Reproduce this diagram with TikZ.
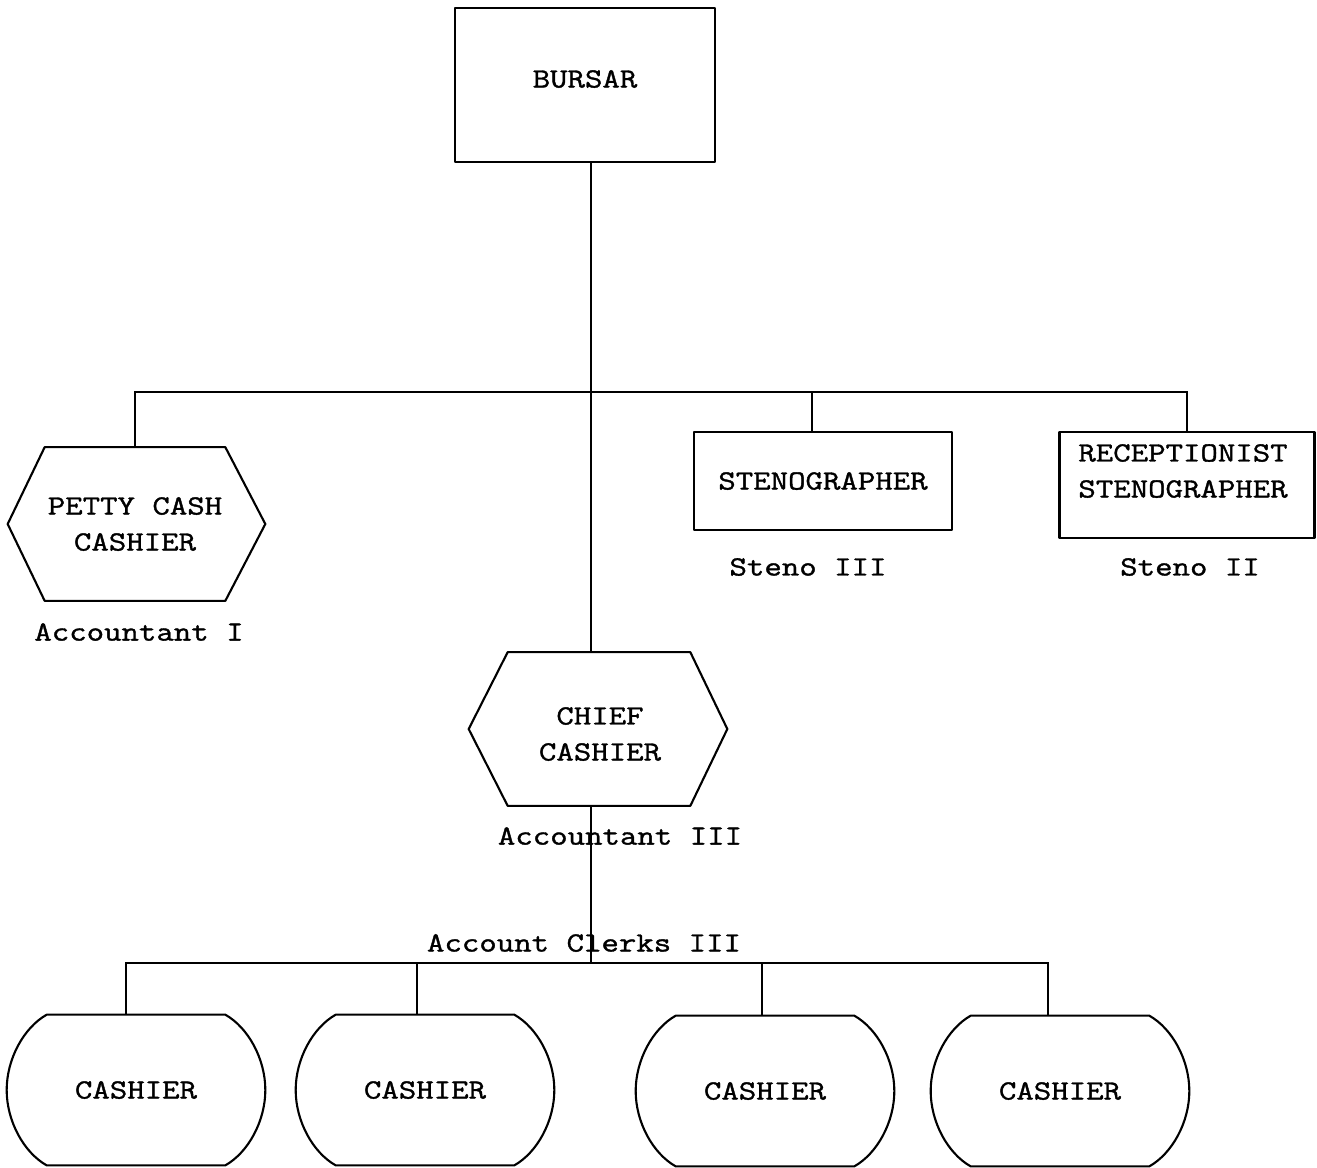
\documentclass[tikz,border=0pt]{standalone}
\usepackage{fontspec}
\newfontfamily\tw[FakeStretch=1.22,FakeBold=1.3]{Latin Modern Mono}
\newcommand\hexoutline[3]{%
  \draw[shapeline] (#1.north west) -- (#1.north east) -- ([xshift=#3]#1.east)
    -- (#1.south east) -- (#1.south west) -- ([xshift=-#2]#1.west) -- cycle;}
\newcommand\barreloutline[1]{%
  \draw[shapeline] ([xshift=0.8cm]#1.north west) -- ([xshift=-0.8cm]#1.north east)
    .. controls ([xshift=-0.34cm,yshift=-0.26cm]#1.north east) and ([yshift=0.62cm]#1.east) .. (#1.east)
    .. controls ([yshift=-0.62cm]#1.east) and ([xshift=-0.34cm,yshift=0.26cm]#1.south east) .. ([xshift=-0.8cm]#1.south east)
    -- ([xshift=0.8cm]#1.south west)
    .. controls ([xshift=0.34cm,yshift=0.26cm]#1.south west) and ([yshift=-0.62cm]#1.west) .. (#1.west)
    .. controls ([yshift=0.62cm]#1.west) and ([xshift=0.34cm,yshift=-0.26cm]#1.north west) .. cycle;}
\begin{document}
\begin{tikzpicture}[x=0.02cm,y=-0.02cm,
  txt/.style={font=\tw\fontsize{15.8}{20.5}\selectfont, align=center, inner sep=0pt},
  shapeline/.style={line width=1.2pt, line join=round},
  conn/.style={line width=0.9pt},
  boxnode/.style={txt, draw, shapeline, rectangle},
  hexnode/.style={txt, rectangle, minimum width=3.6cm, minimum height=3.06cm},
  barrel/.style={txt, rectangle, minimum width=5.16cm, minimum height=3.0cm}]
\useasboundingbox (0,0) rectangle (1317,1167);

% nodes
\node[boxnode, minimum width=5.2cm, minimum height=3.08cm] (bursar) at (585,85) {};
\node[txt] (bursarText) at (585,79) {BURSAR};
\node[hexnode] (petty) at (135,524) {PETTY CASH\\CASHIER};
\hexoutline{petty}{0.74cm}{0.8cm}
\node[boxnode, minimum width=5.16cm, minimum height=1.96cm] (steno) at (823,481) {STENOGRAPHER};
\node[boxnode, minimum width=5.1cm, minimum height=2.12cm] (recep) at (1187,485) {};
\node[txt] (recepText) at (1183,471) {RECEPTIONIST\\STENOGRAPHER};
\node[hexnode, minimum width=3.64cm] (chief) at (599,729) {};
\node[txt] (chiefText) at (600,734) {CHIEF\\CASHIER};
\hexoutline{chief}{0.78cm}{0.74cm}

\node[barrel] (c1) at (136,1090) {CASHIER};
\node[barrel] (c2) at (425,1090) {CASHIER};
\node[barrel] (c3) at (765,1091) {CASHIER};
\node[barrel] (c4) at (1060,1091) {CASHIER};
\barreloutline{c1}
\barreloutline{c2}
\barreloutline{c3}
\barreloutline{c4}

% labels
\node[txt] (accI) at (139,632) {Accountant I};
\node[txt] (st3) at (808,567) {Steno III};
\node[txt] (st2) at (1190,567) {Steno II};
\node[txt] (acc3) at (620,836) {Accountant III};
\node[txt] (clerks) at (584,943) {Account Clerks III};

% connectors
\coordinate (bus) at (591,392);
\coordinate (bus2) at (591,963);
\draw[conn] (bursar.south -| bus) -- (chief.north -| bus);
\draw[conn] (petty.north) -- (petty.north |- bus) -- (recep.north |- bus) -- (recep.north);
\draw[conn] ([xshift=-0.22cm]steno.north) -- ([xshift=-0.22cm]steno.north |- bus);
\draw[conn] (chief.south -| bus2) -- (bus2);
\draw[conn] ([xshift=-0.2cm]c1.north) -- ([xshift=-0.2cm]c1.north |- bus2)
  -- ([xshift=-0.24cm]c4.north |- bus2) -- ([xshift=-0.24cm]c4.north);
\draw[conn] ([xshift=-0.16cm]c2.north) -- ([xshift=-0.16cm]c2.north |- bus2);
\draw[conn] ([xshift=-0.06cm]c3.north) -- ([xshift=-0.06cm]c3.north |- bus2);
\end{tikzpicture}
\end{document}
